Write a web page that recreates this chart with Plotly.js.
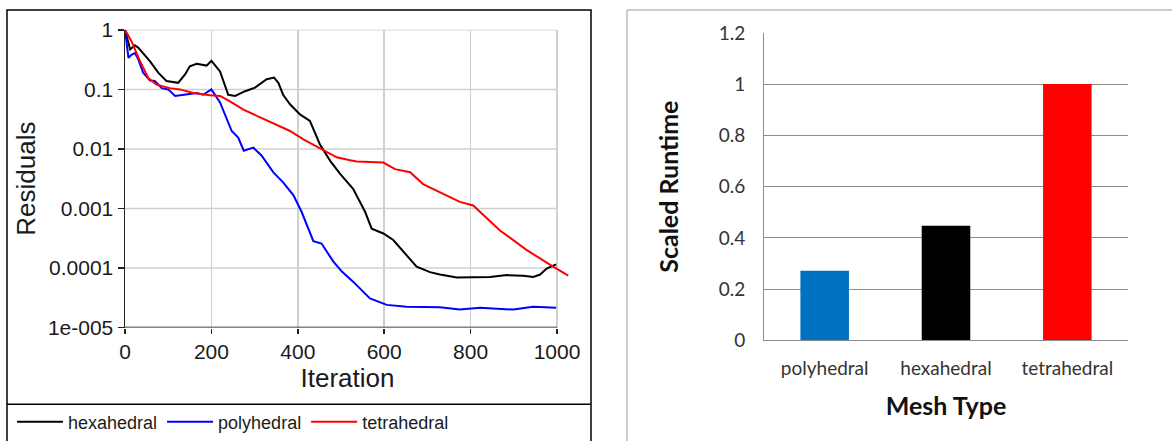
<!DOCTYPE html>
<html>
<head>
<meta charset="utf-8">
<script src="https://cdn.plot.ly/plotly-3.0.1.min.js"></script>
<style>html,body{margin:0;padding:0;background:#fff;}#chart{width:1172px;height:441px;}</style>
</head>
<body>
<div id="chart"></div>
<script>
// ---- Residual history (left chart) ----
const hexaIter = [0,12,23,31,58,77,96,123,139,150,166,189,200,220,239,255,278,301,328,345,355,366,382,405,428,451,475,498,528,556,571,598,621,652,675,706,729,768,806,845,884,922,945,961,976,998];
const hexaRes = [1,0.468,0.550,0.501,0.295,0.191,0.138,0.129,0.178,0.245,0.269,0.251,0.302,0.200,0.0813,0.0776,0.0933,0.107,0.148,0.158,0.129,0.0813,0.0562,0.0380,0.0295,0.0120,0.00631,0.00380,0.00214,0.000871,0.000457,0.000380,0.000295,0.000166,0.000105,0.0000851,0.0000776,0.0000692,0.0000692,0.0000708,0.0000759,0.0000741,0.0000708,0.0000776,0.0000977,0.000115];

const polyIter = [0,8,15,23,31,42,58,69,85,100,116,135,166,181,200,220,235,247,262,275,297,316,343,366,390,409,436,455,482,502,528,567,606,652,729,775,822,899,945,998];
const polyRes = [1,0.339,0.380,0.407,0.316,0.191,0.141,0.138,0.105,0.100,0.0776,0.0813,0.0871,0.0813,0.100,0.0603,0.0339,0.0200,0.0155,0.00933,0.0105,0.00776,0.00407,0.00275,0.00166,0.000871,0.000282,0.000257,0.000129,0.0000871,0.0000589,0.0000309,0.0000240,0.0000224,0.0000219,0.0000200,0.0000214,0.0000200,0.0000224,0.0000214];

const tetraIter = [0,15,35,54,73,104,127,158,197,220,243,274,313,351,382,413,451,490,521,536,598,625,660,690,775,806,868,930,991,1026];
const tetraRes = [1,0.646,0.295,0.155,0.120,0.105,0.100,0.0871,0.0794,0.0776,0.0631,0.0457,0.0339,0.0257,0.0200,0.0145,0.0102,0.00724,0.00646,0.00617,0.00589,0.00457,0.00407,0.00257,0.00129,0.00112,0.000427,0.000200,0.000105,0.0000741];

const iterTicks = [0,200,400,600,800,1000];
const resTickVals = [1,0.1,0.01,0.001,0.0001,0.00001];
const resTickText = ['1','0.1','0.01','0.001','0.0001','1e-005'];

// ---- Scaled runtime (right chart) ----
const meshTypes = ['polyhedral','hexahedral','tetrahedral'];
const runtimes = [0.272,0.447,1.0];
const barColors = ['#0070C0','#000000','#FF0000'];
const runtimeTicks = [0,0.2,0.4,0.6,0.8,1,1.2];
const runtimeTickText = ['0','0.2','0.4','0.6','0.8','1','1.2'];

const W = 1172, H = 441;
const px = v => v / W;
const py = v => 1 - v / H;

const ARIAL = '"Liberation Sans", Arial, sans-serif';
const CAL = 'Lato, "Open Sans", sans-serif';

const traces = [
  {x: hexaIter, y: hexaRes, name: 'hexahedral', type: 'scatter', mode: 'lines',
   line: {color: '#000000', width: 2}, xaxis: 'x', yaxis: 'y'},
  {x: polyIter, y: polyRes, name: 'polyhedral', type: 'scatter', mode: 'lines',
   line: {color: '#0000FF', width: 2}, xaxis: 'x', yaxis: 'y'},
  {x: tetraIter, y: tetraRes, name: 'tetrahedral', type: 'scatter', mode: 'lines',
   line: {color: '#FF0000', width: 2}, xaxis: 'x', yaxis: 'y'},
  {x: meshTypes, y: runtimes, type: 'bar', marker: {color: barColors},
   showlegend: false, xaxis: 'x2', yaxis: 'y2'}
];

const xMax = 1030;
const gridShapes = resTickVals.map(v => ({
  type: 'line', xref: 'x', yref: 'y', x0: 0, x1: 1000, y0: v, y1: v,
  line: {color: '#d0d0d0', width: 1.5}, layer: 'below'
}));

const layout = {
  width: W, height: H,
  margin: {l: 0, r: 0, t: 0, b: 0},
  paper_bgcolor: '#ffffff', plot_bgcolor: 'rgba(0,0,0,0)',
  showlegend: true,
  bargap: 0.6,
  legend: {
    orientation: 'h', x: px(12), xanchor: 'left', y: py(424), yanchor: 'middle',
    font: {family: ARIAL, size: 18, color: '#1a1a1a'},
    bgcolor: 'rgba(0,0,0,0)', itemwidth: 46, traceorder: 'normal'
  },
  xaxis: {
    domain: [px(125), px(125 + xMax * 0.432)], range: [0, xMax],
    tickvals: iterTicks, ticks: 'outside', ticklen: 5, tickcolor: '#222', tickwidth: 1.5,
    showgrid: true, gridcolor: '#d0d0d0', gridwidth: 1.5, zeroline: false, showline: false,
    tickfont: {family: ARIAL, size: 21, color: '#1a1a1a'},
    title: {text: 'Iteration', font: {family: ARIAL, size: 26, color: '#1a1a1a'}, standoff: 4},
    fixedrange: true
  },
  yaxis: {
    domain: [py(329), py(30)], type: 'log', range: [-5, 0],
    tickvals: resTickVals, ticktext: resTickText, ticks: 'outside', ticklen: 6, tickcolor: '#222', tickwidth: 1.5,
    showgrid: false, zeroline: false, showline: true, linecolor: '#222', linewidth: 1.5,
    tickfont: {family: ARIAL, size: 21, color: '#1a1a1a'},
    title: {text: 'Residuals', font: {family: ARIAL, size: 26, color: '#1a1a1a'}, standoff: 5},
    fixedrange: true
  },
  xaxis2: {
    domain: [px(764), px(1128)], anchor: 'y2',
    showline: true, linecolor: '#8c8c8c', linewidth: 1, ticks: '', showgrid: false,
    tickfont: {family: CAL, size: 19, color: '#333'}, ticklabelstandoff: 11,
    title: {text: 'Mesh Type', font: {family: CAL, size: 25, color: '#111', weight: 'bold'}, standoff: 19},
    fixedrange: true
  },
  yaxis2: {
    domain: [py(342), py(33)], anchor: 'x2', range: [0, 1.2],
    tickvals: runtimeTicks, ticktext: runtimeTickText, ticks: '',
    showgrid: true, gridcolor: '#8c8c8c', gridwidth: 1, zeroline: false,
    showline: true, linecolor: '#8c8c8c', linewidth: 1,
    tickfont: {family: CAL, size: 19, color: '#333'}, ticklabelstandoff: 14,
    title: {text: 'Scaled Runtime', font: {family: CAL, size: 25, color: '#111', weight: 'bold'}, standoff: 32},
    fixedrange: true
  },
  shapes: gridShapes.concat([
    {type: 'line', xref: 'x', yref: 'y', x0: 0, x1: 1000, y0: 0.00001, y1: 0.00001,
     line: {color: '#222', width: 1.5}},
    {type: 'rect', xref: 'paper', yref: 'paper', x0: px(7), x1: px(591), y0: -0.1, y1: py(10),
     line: {color: '#000', width: 1.5}, layer: 'below'},
    {type: 'line', xref: 'paper', yref: 'paper', x0: px(7), x1: px(591), y0: py(406), y1: py(406),
     line: {color: '#000', width: 1.5}},
    {type: 'rect', xref: 'paper', yref: 'paper', x0: px(627), x1: 1.05, y0: -0.1, y1: py(10),
     line: {color: '#9a9a9a', width: 1}, layer: 'below'}
  ])
};

Plotly.newPlot('chart', traces, layout, {displayModeBar: false, staticPlot: true});
</script>
</body>
</html>
